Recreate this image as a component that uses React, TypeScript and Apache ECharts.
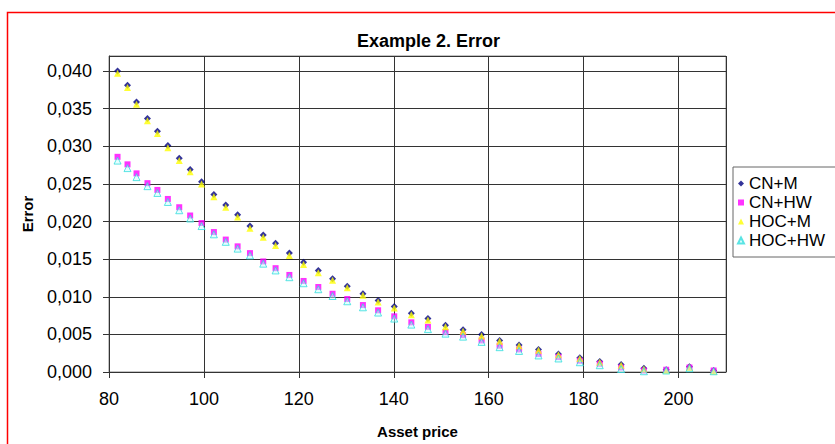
import React, { useEffect, useRef } from "react";
import * as echarts from "echarts";

const assetPrice = [81.8, 83.9, 85.8, 88.1, 90.2, 92.4, 94.8, 97.1, 99.5, 102.1, 104.6, 107.1, 109.7, 112.5, 115.1, 118.0, 121.0, 124.1, 127.1, 130.2, 133.5, 136.7, 140.1, 143.7, 147.2, 150.9, 154.6, 158.5, 162.3, 166.4, 170.5, 174.7, 179.2, 183.4, 187.9, 192.7, 197.4, 202.3, 207.4];

const cnM = [0.0400, 0.0381, 0.0359, 0.0337, 0.0320, 0.0301, 0.0284, 0.0269, 0.0253, 0.0236, 0.0222, 0.0209, 0.0194, 0.0182, 0.0171, 0.0158, 0.0146, 0.0135, 0.0124, 0.0114, 0.0104, 0.0095, 0.0087, 0.0078, 0.0071, 0.0062, 0.0056, 0.0050, 0.0042, 0.0036, 0.0030, 0.0024, 0.0019, 0.0014, 0.0010, 0.0005, 0.0003, 0.0007, 0.0002];

const cnHW = [0.0286, 0.0276, 0.0264, 0.0251, 0.0242, 0.0230, 0.0219, 0.0208, 0.0198, 0.0186, 0.0176, 0.0167, 0.0158, 0.0147, 0.0138, 0.0129, 0.0121, 0.0113, 0.0104, 0.0097, 0.0089, 0.0082, 0.0074, 0.0066, 0.0060, 0.0053, 0.0049, 0.0042, 0.0035, 0.0030, 0.0024, 0.0020, 0.0015, 0.0011, 0.0006, 0.0002, 0.0003, 0.0006, 0.0002];

const hocM = [0.0397, 0.0378, 0.0356, 0.0334, 0.0317, 0.0298, 0.0281, 0.0266, 0.0250, 0.0233, 0.0219, 0.0206, 0.0191, 0.0179, 0.0168, 0.0155, 0.0143, 0.0132, 0.0122, 0.0112, 0.0102, 0.0093, 0.0085, 0.0076, 0.0069, 0.0060, 0.0054, 0.0048, 0.0041, 0.0035, 0.0029, 0.0023, 0.0018, 0.0013, 0.0009, 0.0004, 0.0002, 0.0006, 0.0001];

const hocHW = [0.0281, 0.0271, 0.0259, 0.0247, 0.0238, 0.0226, 0.0215, 0.0204, 0.0194, 0.0183, 0.0173, 0.0164, 0.0155, 0.0144, 0.0135, 0.0126, 0.0118, 0.0110, 0.0101, 0.0094, 0.0086, 0.0079, 0.0071, 0.0063, 0.0057, 0.0051, 0.0047, 0.0040, 0.0033, 0.0028, 0.0022, 0.0018, 0.0013, 0.0009, 0.0004, 0.0001, 0.0002, 0.0005, 0.0001];

const seriesNames = ["CN+M", "CN+HW", "HOC+M", "HOC+HW"];

const FONT = "'Liberation Sans', Arial, sans-serif";

function pairs(ys: number[]) {
  return assetPrice.map((x, i) => [x, ys[i]]);
}

export default function App() {
  const ref = useRef<HTMLDivElement>(null);
  useEffect(() => {
    if (!ref.current) return;
    const chart = echarts.init(ref.current, null, { renderer: "svg" });
    const option: any = {
      animation: false,
      backgroundColor: "#ffffff",
      textStyle: { fontFamily: FONT },
      title: {
        text: "Example 2. Error",
        left: 357,
        top: 32,
        padding: 0,
        textStyle: { fontSize: 18, fontWeight: "bold", color: "#000", fontFamily: FONT },
      },
      graphic: [
        {
          type: "rect",
          silent: true,
          shape: { x: 7.5, y: 12.5, width: 900, height: 500 },
          style: { fill: "none", stroke: "#ff0000", lineWidth: 1.5 },
        },
      ],
      grid: {
        left: 109,
        top: 56,
        width: 617,
        height: 316,
        show: true,
        borderColor: "#888",
        borderWidth: 1,
        backgroundColor: "transparent",
      },
      legend: {
        data: seriesNames,
        orient: "vertical",
        left: 733,
        top: 167,
        itemWidth: 6,
        itemHeight: 6,
        itemGap: 2,
        padding: [8, 40, 8, 4],
        borderColor: "#666",
        borderWidth: 1,
        backgroundColor: "#fff",
        textStyle: { fontSize: 17, color: "#000", fontFamily: FONT },
      },
      xAxis: {
        type: "value",
        min: 80,
        max: 210,
        interval: 20,
        name: "Asset price",
        nameLocation: "middle",
        nameGap: 52,
        nameTextStyle: { fontSize: 15, fontWeight: "bold", color: "#000", fontFamily: FONT },
        axisLine: { show: true, onZero: false, lineStyle: { color: "#333", width: 1 } },
        axisTick: { show: true, length: 6, lineStyle: { color: "#333" } },
        axisLabel: {
          fontSize: 18,
          color: "#000",
          margin: 18,
          fontFamily: FONT,
          showMaxLabel: false,
          formatter: (v: number) => (v > 200 ? "" : String(v)),
        },
        splitLine: { show: true, lineStyle: { color: "#333", width: 1 } },
      },
      yAxis: {
        type: "value",
        min: 0,
        max: 0.042,
        interval: 0.005,
        name: "Error",
        nameLocation: "middle",
        nameGap: 74,
        nameTextStyle: { fontSize: 15, fontWeight: "bold", color: "#000", fontFamily: FONT },
        axisLine: { show: true, lineStyle: { color: "#333", width: 1 } },
        axisTick: { show: true, length: 6, lineStyle: { color: "#333" } },
        axisLabel: {
          fontSize: 18,
          color: "#000",
          margin: 17,
          fontFamily: FONT,
          showMaxLabel: false,
          formatter: (v: number) => (v > 0.0405 ? "" : v.toFixed(3).replace(".", ",")),
        },
        splitLine: { show: true, lineStyle: { color: "#333", width: 1 } },
      },
      series: [
        {
          name: "CN+M",
          type: "scatter",
          data: pairs(cnM),
          symbol: "diamond",
          symbolSize: 7,
          itemStyle: { color: "#000080" },
        },
        {
          name: "CN+HW",
          type: "scatter",
          data: pairs(cnHW),
          symbol: "rect",
          symbolSize: 6,
          itemStyle: { color: "#ff00ff" },
        },
        {
          name: "HOC+M",
          type: "scatter",
          data: pairs(hocM),
          symbol: "triangle",
          symbolSize: 7,
          itemStyle: { color: "#ffff00" },
        },
        {
          name: "HOC+HW",
          type: "scatter",
          data: pairs(hocHW),
          symbol: "triangle",
          symbolSize: 7,
          itemStyle: { color: "rgba(200,255,255,0.6)", borderColor: "#33dddd", borderWidth: 1 },
        },
      ],
    };
    chart.setOption(option);
    return () => chart.dispose();
  }, []);
  return (
    <div
      ref={ref}
      style={{ position: "fixed", left: 0, top: 0, width: 835, height: 444 }}
    />
  );
}
